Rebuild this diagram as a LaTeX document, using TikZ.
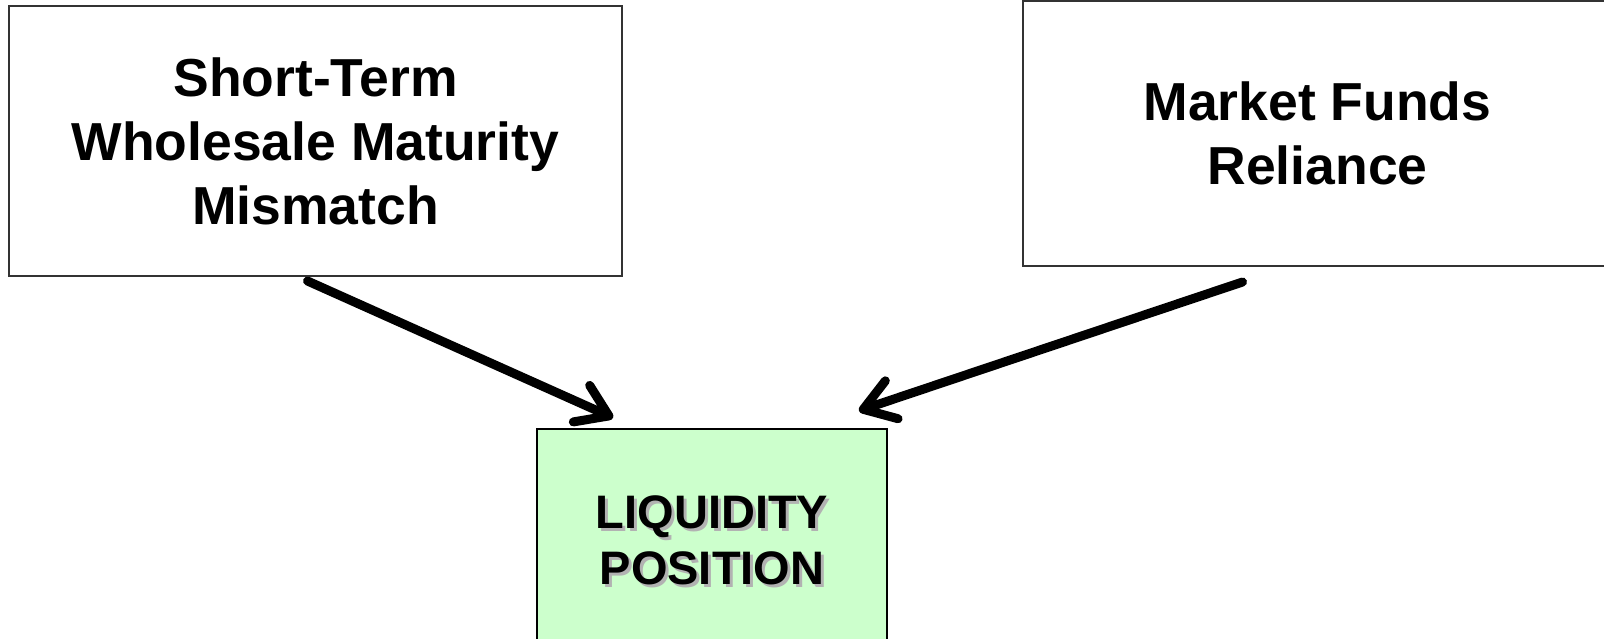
\documentclass[tikz,border=0pt]{standalone}
\usepackage{fontspec}
\setmainfont{Liberation Sans}
\usetikzlibrary{arrows.meta,calc}
\definecolor{liqgreen}{HTML}{CCFFCC}
\definecolor{framegray}{HTML}{333333}
\begin{document}
\begin{tikzpicture}[x=1pt,y=-1pt,
  factor/.style={draw=framegray, line width=2pt, fill=white, inner sep=0pt,
    align=center, font=\bfseries\fontsize{53.5}{64}\selectfont},
  target/.style={draw=black, line width=2.5pt, fill=liqgreen, inner sep=0pt},
  targettext/.style={inner sep=0pt, align=center,
    font=\bfseries\fontsize{47}{56}\selectfont},
  influence/.style={line width=9pt, line cap=round,
    -{Straight Barb[length=30pt,width=40pt,line width=9pt,round]}}]
\clip (0,0) rectangle (1604,639);
\useasboundingbox (0,0) rectangle (1604,639);
\fill[white] (0,0) rectangle (1604,639);

% source factors
\node[factor, minimum width=613pt, minimum height=270pt] (stwm) at (315.5,141)
  {Short-Term\\Wholesale Maturity\\Mismatch};
\node[factor, minimum width=589pt, minimum height=265pt] (mfr) at (1317.5,133.5)
  {Market Funds\\Reliance};

% outcome box with shadowed label
\node[target, minimum width=350pt, minimum height=222pt] (liq) at (712,540) {};
\node[targettext, text=black!30] (liqshade) at ($(liq.center)+(3,3)$)
  {LIQUIDITY\\POSITION};
\node[targettext, text=black] (liqlabel) at (liq.center)
  {LIQUIDITY\\POSITION};

% influences
\draw[influence] ([shift={(-8,4)}]stwm.south) -- ([shift={(-99,-10)}]liq.north);
\draw[influence] ([shift={(-75,15)}]mfr.south) -- ([shift={(147,-17)}]liq.north);
\end{tikzpicture}
\end{document}
